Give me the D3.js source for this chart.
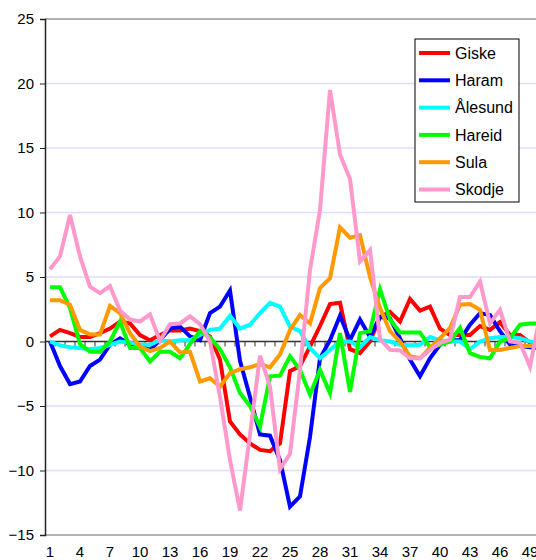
<!DOCTYPE html>
<html>
<head>
<meta charset="utf-8">
<script src="https://cdn.jsdelivr.net/npm/d3@7"></script>
<style>
  body { margin: 0; background: #fff; }
  svg { display: block; font-family: Arial, "Liberation Sans", sans-serif; }
</style>
</head>
<body>
<div id="chart"></div>
<script>
// categories 1..52, values (first 50 are visible)
const categories = d3.range(1, 53)
const tickLabels = d3.range(1, 50, 3)
const yTicks = [-15, -10, -5, 0, 5, 10, 15, 20, 25]

const giske = [0.4, 0.9, 0.65, 0.35, 0.35, 0.65, 1.0, 1.55, 1.4, 0.5, 0.1, 0.5, 0.85, 0.85, 1.0, 0.8, 0.4, -1.4, -6.2, -7.2,
  -7.9, -8.4, -8.5, -7.9, -2.3, -1.9, -0.4, 1.2, 2.9, 3.0, -0.6, -0.9, 0.0, 1.9, 2.3, 1.55, 3.3, 2.4, 2.7, 1.0,
  0.5, 0.5, 0.5, 1.2, 0.9, 1.5, 0.5, 0.5, -0.1, -0.3]
const haram = [0, -1.9, -3.3, -3.1, -1.9, -1.4, -0.25, 0.25, -0.25, -0.35, -0.65, 0.1, 1.0, 1.15, 0.4, 0.1, 2.2, 2.7, 3.95, -1.5,
  -4.3, -7.2, -7.3, -9.2, -12.8, -12.0, -7.4, -1.3, 0.1, 2.0, 0.1, 1.7, 0.35, 1.9, 1.8, 0.25, -1.4, -2.7, -1.3, -0.25,
  0.1, 0.1, 1.3, 2.2, 2.05, 0.8, -0.25, -0.35, -0.45, -0.5]
const alesund = [0, -0.3, -0.45, -0.5, -0.6, -0.5, -0.25, 0, -0.1, -0.25, -0.25, 0.1, 0, 0.1, 0.1, 0.5, 0.9, 1.0, 2.0, 1.0,
  1.3, 2.2, 3.0, 2.7, 1.15, 0.8, -0.5, -1.3, -0.65, 0, 0, -0.45, 0.35, 0.1, 0, -0.25, -0.3, -0.25, 0.35, 0.1,
  0, 0, -0.6, 0, 0.25, 0.35, 0.35, 0.25, 0, -0.1]
const hareid = [4.2, 4.2, 2.6, -0.2, -0.8, -0.8, 0, 1.55, -0.5, -0.5, -1.55, -0.8, -0.8, -1.3, -0.2, 0.8, 0.3, -0.6, -2.0, -4.0,
  -5.0, -6.6, -2.7, -2.65, -1.15, -2.2, -4.1, -2.2, -4.0, 0.65, -3.9, 0.65, 0.8, 4.05, 1.7, 0.7, 0.7, 0.7, -0.45, -0.25,
  0, 1.05, -0.9, -1.2, -1.3, 0, 0.25, 1.3, 1.4, 1.4]
const sula = [3.2, 3.2, 2.85, 0.9, 0.55, 0.55, 2.75, 2.2, 0.65, -0.4, -0.75, -0.5, 0, -0.85, -0.8, -3.1, -2.85, -3.5, -2.45, -2.15,
  -2.0, -1.75, -2.0, -1.0, 0.9, 2.05, 1.4, 4.15, 4.9, 8.85, 8.05, 8.25, 5.0, 2.6, 0.8, 0, -1.15, -1.3, -0.5, 0.25,
  1.05, 2.85, 2.9, 2.45, -0.65, -0.65, -0.5, -0.35, -0.35, -0.35]
const skodje = [5.6, 6.6, 9.8, 6.6, 4.25, 3.75, 4.3, 2.4, 1.7, 1.55, 2.1, 0.05, 1.35, 1.4, 1.95, 1.35, 0, -4.3, -9.2, -13.1,
  -7.2, -1.1, -3.5, -9.9, -8.7, -2.2, 5.55, 10.2, 19.5, 14.5, 12.6, 6.2, 7.1, 0.2, -0.65, -0.7, -1.3, -1.3, -0.65, -0.1,
  0.15, 3.45, 3.45, 4.65, 1.4, 2.45, 0, -0.1, -1.95, 2.0]

const seriesNames = ['Giske', 'Haram', 'Ålesund', 'Hareid', 'Sula', 'Skodje']
const seriesValues = [giske, haram, alesund, hareid, sula, skodje]
const seriesColors = ['#ff0000', '#0000ff', '#00ffff', '#00ff00', '#ff9900', '#ff99cc']

const width = 536
const height = 560
const margin = { top: 19, left: 45, bottom: 25 }

const svg = d3.select('#chart')
  .append('svg')
  .attr('width', width)
  .attr('height', height)

const x = d3.scaleBand()
  .domain(categories)
  .range([margin.left, margin.left + categories.length * 10])

const y = d3.scaleLinear()
  .domain([-15, 25])
  .range([height - margin.bottom, margin.top])

const cx = d => x(d) + x.bandwidth() / 2
const plotRight = margin.left + categories.length * 10

// gridlines
svg.append('g')
  .selectAll('line')
  .data(yTicks.filter(t => t !== 0 && t !== -15 && t !== 25))
  .join('line')
  .attr('x1', margin.left)
  .attr('x2', plotRight)
  .attr('y1', d => y(d))
  .attr('y2', d => y(d))
  .attr('stroke', '#dcdcff')
  .attr('stroke-width', 1.5)

// plot border top / bottom
svg.append('line')
  .attr('x1', margin.left).attr('x2', plotRight)
  .attr('y1', y(25)).attr('y2', y(25))
  .attr('stroke', '#999').attr('stroke-width', 1.5)
svg.append('line')
  .attr('x1', margin.left).attr('x2', plotRight)
  .attr('y1', y(-15)).attr('y2', y(-15))
  .attr('stroke', '#999').attr('stroke-width', 1.5)

// y axis
const yAxis = svg.append('g')
  .attr('transform', `translate(${margin.left},0)`)
  .call(d3.axisLeft(y).tickValues(yTicks).tickSize(5).tickPadding(6))
yAxis.select('.domain').attr('stroke', '#222').attr('stroke-width', 1.5)
yAxis.selectAll('.tick line').attr('stroke', '#222')
yAxis.selectAll('text').attr('font-size', 15).attr('fill', '#000')
  .attr('font-family', 'Arial, "Liberation Sans", sans-serif')

// category axis sitting on the zero line, ticks between categories
const xAxis = svg.append('g')
  .attr('transform', `translate(0,${y(0)})`)
xAxis.append('line')
  .attr('x1', margin.left).attr('x2', plotRight)
  .attr('stroke', '#333').attr('stroke-width', 1.5)
xAxis.selectAll('line.tick')
  .data(categories)
  .join('line')
  .attr('class', 'tick')
  .attr('x1', d => x(d) + x.bandwidth())
  .attr('x2', d => x(d) + x.bandwidth())
  .attr('y1', 0)
  .attr('y2', 5)
  .attr('stroke', '#333')

// category labels under the plot
svg.append('g')
  .selectAll('text')
  .data(tickLabels)
  .join('text')
  .attr('x', d => cx(d))
  .attr('y', height - 0)
  .attr('dy', '-0.2em')
  .attr('text-anchor', 'middle')
  .attr('font-size', 15)
  .text(d => d)

// series lines
const line = d3.line()
  .x((d, i) => cx(categories[i]))
  .y(d => y(d))

svg.append('g')
  .selectAll('path')
  .data(seriesValues)
  .join('path')
  .attr('d', d => line(d))
  .attr('fill', 'none')
  .attr('stroke', (d, i) => seriesColors[i])
  .attr('stroke-width', 4)
  .attr('stroke-linejoin', 'miter')

// legend
const legend = svg.append('g').attr('transform', 'translate(415,39)')
legend.append('rect')
  .attr('width', 104)
  .attr('height', 163)
  .attr('fill', '#fff')
  .attr('stroke', '#000')
  .attr('stroke-width', 1)

const items = legend.selectAll('g.item')
  .data(seriesNames)
  .join('g')
  .attr('class', 'item')
  .attr('transform', (d, i) => `translate(0,${14 + i * 27.3})`)
items.append('line')
  .attr('x1', 4).attr('x2', 35)
  .attr('stroke', (d, i) => seriesColors[i])
  .attr('stroke-width', 4)
items.append('text')
  .attr('x', 40)
  .attr('dy', '0.36em')
  .attr('font-size', 16)
  .text(d => d)
</script>
</body>
</html>
